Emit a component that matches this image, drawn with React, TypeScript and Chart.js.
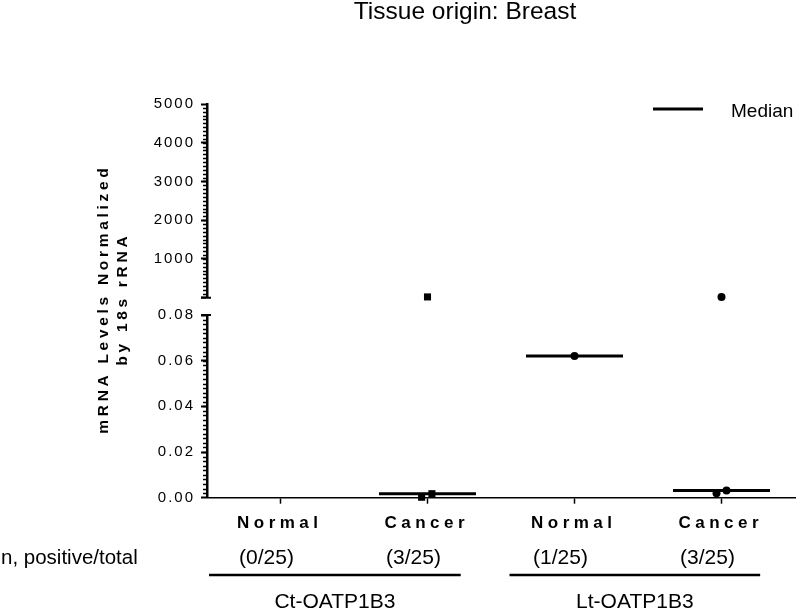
import React, { useEffect, useRef } from 'react';
import { Chart, registerables } from 'chart.js';

Chart.register(...registerables);

const FONT = "'Liberation Sans', Arial, Helvetica, sans-serif";

const titleText = 'Tissue origin: Breast';
const yTitleLines = ['mRNA Levels Normalized', 'by 18s rRNA'];
const categories = ['Normal', 'Cancer', 'Normal', 'Cancer'];
const counts = ['(0/25)', '(3/25)', '(1/25)', '(3/25)'];
const countsLabel = 'n, positive/total';
const groups = ['Ct-OATP1B3', 'Lt-OATP1B3'];
const groupSpans = [[-0.486, 1.226], [1.558, 3.263]];
const legendLabel = 'Median';

const upperTickStep = 1000;
const upperMinorStep = 100;
const upperMax = 5000;
const lowerTickStep = 0.02;
const lowerMinorStep = 0.002;
const lowerMax = 0.08;

const ctCancerLow = [{ x: 0.96, y: 0.0002 }, { x: 1.03, y: 0.00175 }];
const ctCancerHigh = [{ x: 1, y: 20 }];
const ltNormal = [{ x: 2, y: 0.062 }];
const ltCancerLow = [{ x: 2.966, y: 0.0019 }, { x: 3.034, y: 0.0031 }];
const ltCancerHigh = [{ x: 3, y: 20 }];

const medianCats = [1, 2, 3];
const medianValues = [0.00175, 0.062, 0.0031];
const medianHalfWidth = 0.33;

const decorPlugin = {
  id: 'decor',
  beforeDraw(chart: any) {
    chart.ctx.letterSpacing = '2px';
  },
  beforeDatasetsDraw(chart: any) {
    chart.ctx.letterSpacing = '0px';
  },
  afterDraw(chart: any) {
    const ctx = chart.ctx;
    const xs = chart.scales.x;
    const yT = chart.scales.yTop;
    const yB = chart.scales.yBot;
    const ax = chart.chartArea.left;
    ctx.save();
    ctx.strokeStyle = '#000';
    ctx.fillStyle = '#000';
    // minor ticks
    ctx.lineWidth = 1.5;
    ctx.beginPath();
    for (let v = upperMinorStep; v < upperMax; v += upperMinorStep) {
      const py = Math.round(yT.getPixelForValue(v)) + 0.5;
      ctx.moveTo(ax - 4, py);
      ctx.lineTo(ax, py);
    }
    for (let i = 1; i < Math.round(lowerMax / lowerMinorStep); i++) {
      const py = Math.round(yB.getPixelForValue(i * lowerMinorStep)) + 0.5;
      ctx.moveTo(ax - 4, py);
      ctx.lineTo(ax, py);
    }
    ctx.stroke();
    // break caps
    ctx.lineWidth = 2;
    ctx.beginPath();
    const c1 = yT.getPixelForValue(0);
    const c2 = yB.getPixelForValue(lowerMax);
    ctx.moveTo(ax - 6, c1); ctx.lineTo(ax + 4, c1);
    ctx.moveTo(ax - 6, c2); ctx.lineTo(ax + 4, c2);
    ctx.stroke();

    // title
    ctx.letterSpacing = '0px';
    ctx.textAlign = 'center';
    ctx.textBaseline = 'alphabetic';
    ctx.font = `24.5px ${FONT}`;
    ctx.fillText(titleText, 465, 19);

    // legend
    ctx.lineWidth = 3;
    ctx.beginPath();
    ctx.moveTo(653, 109);
    ctx.lineTo(703, 109);
    ctx.stroke();
    ctx.textAlign = 'left';
    ctx.font = `19px ${FONT}`;
    ctx.fillText(legendLabel, 731, 117);

    // y title
    const ySp = 3.7;
    ctx.font = `bold 15.5px ${FONT}`;
    ctx.letterSpacing = `${ySp}px`;
    ctx.textAlign = 'center';
    ctx.textBaseline = 'middle';
    const tx = [104, 122.5];
    yTitleLines.forEach((line, i) => {
      ctx.save();
      ctx.translate(tx[i], 301);
      ctx.rotate(-Math.PI / 2);
      ctx.fillText(line, ySp / 2, 0);
      ctx.restore();
    });

    // category labels
    const xSp = 4.5;
    ctx.letterSpacing = `${xSp}px`;
    ctx.textBaseline = 'alphabetic';
    ctx.font = `bold 17px ${FONT}`;
    categories.forEach((c, i) => {
      ctx.fillText(c, xs.getPixelForValue(i) - 3 + xSp / 2, 528);
    });

    // counts
    ctx.letterSpacing = '0px';
    ctx.font = `21px ${FONT}`;
    counts.forEach((c, i) => {
      ctx.fillText(c, xs.getPixelForValue(i) - 14, 564);
    });
    ctx.textAlign = 'left';
    ctx.font = `20.5px ${FONT}`;
    ctx.fillText(countsLabel, 1, 564);

    // group lines and labels
    ctx.lineWidth = 2.5;
    ctx.textAlign = 'center';
    ctx.font = `21px ${FONT}`;
    groups.forEach((g, i) => {
      const a = xs.getPixelForValue(groupSpans[i][0]);
      const b = xs.getPixelForValue(groupSpans[i][1]);
      ctx.beginPath();
      ctx.moveTo(a, 575);
      ctx.lineTo(b, 575);
      ctx.stroke();
      ctx.fillText(g, (a + b) / 2, 608);
    });
    ctx.restore();
  },
};

export default function App() {
  const ref = useRef<HTMLCanvasElement | null>(null);
  useEffect(() => {
    if (!ref.current) return;
    const pointBase = {
      type: 'scatter' as const,
      backgroundColor: '#000',
      borderColor: '#000',
      borderWidth: 0,
      clip: false as any,
      showLine: false,
    };
    const medianSets = medianCats.map((c, i) => ({
      type: 'scatter' as const,
      data: [
        { x: c - medianHalfWidth, y: medianValues[i] },
        { x: c + medianHalfWidth, y: medianValues[i] },
      ],
      yAxisID: 'yBot',
      showLine: true,
      borderColor: '#000',
      borderWidth: 3,
      pointRadius: 0,
      clip: false as any,
    }));
    const yCommon = {
      type: 'linear' as const,
      position: 'left' as const,
      stack: 'ys',
      afterFit: (s: any) => { s.width = 57; },
    };
    const chart = new Chart(ref.current, {
      type: 'scatter',
      data: {
        datasets: [
          ...medianSets,
          { ...pointBase, data: ctCancerLow, yAxisID: 'yBot', pointStyle: 'rect', pointRadius: 5 },
          { ...pointBase, data: ctCancerHigh, yAxisID: 'yTop', pointStyle: 'rect', pointRadius: 5 },
          { ...pointBase, data: ltNormal, yAxisID: 'yBot', pointStyle: 'circle', pointRadius: 4 },
          { ...pointBase, data: ltCancerLow, yAxisID: 'yBot', pointStyle: 'circle', pointRadius: 4 },
          { ...pointBase, data: ltCancerHigh, yAxisID: 'yTop', pointStyle: 'circle', pointRadius: 4 },
        ] as any,
      },
      options: {
        animation: false,
        responsive: false,
        devicePixelRatio: 1,
        events: [],
        layout: { padding: { left: 150, right: 2, top: 104, bottom: 13 } },
        plugins: { legend: { display: false }, tooltip: { enabled: false } },
        scales: {
          x: {
            type: 'linear',
            position: 'bottom',
            min: -0.5,
            max: 3.5,
            afterBuildTicks: (s: any) => { s.ticks = categories.map((_, i) => ({ value: i })); },
            afterFit: (s: any) => { s.height = 100.3; },
            ticks: { display: false },
            grid: { drawOnChartArea: false, drawTicks: true, tickLength: 6, tickWidth: 1.5, tickColor: '#000' },
            border: { display: true, color: '#000', width: 1.5 },
          },
          yBot: {
            ...yCommon,
            stackWeight: 182.7,
            min: 0,
            max: lowerMax,
            ticks: {
              stepSize: lowerTickStep,
              color: '#000',
              padding: 6,
              font: { family: FONT, size: 15 },
              callback: (v: any) => Number(v).toFixed(2),
            },
            grid: { drawOnChartArea: false, drawTicks: true, tickLength: 6, tickWidth: 2, tickColor: '#000' },
            border: { display: true, color: '#000', width: 2.5 },
          },
          yGap: {
            ...yCommon,
            stackWeight: 17.3,
            min: 0,
            max: 1,
            ticks: { display: false },
            grid: { display: false },
            border: { display: false },
          },
          yTop: {
            ...yCommon,
            stackWeight: 193.7,
            min: 0,
            max: upperMax,
            ticks: {
              stepSize: upperTickStep,
              color: '#000',
              padding: 6,
              font: { family: FONT, size: 15 },
              callback: (v: any) => (Number(v) === 0 ? '' : String(v)),
            },
            grid: { drawOnChartArea: false, drawTicks: true, tickLength: 6, tickWidth: 2, tickColor: '#000' },
            border: { display: true, color: '#000', width: 2.5 },
          },
        } as any,
      },
      plugins: [decorPlugin],
    });
    return () => chart.destroy();
  }, []);
  return (
    <div style={{ position: 'absolute', left: 0, top: 0, width: 800, height: 611, background: '#fff' }}>
      <canvas ref={ref} width={800} height={611} style={{ display: 'block' }} />
    </div>
  );
}
